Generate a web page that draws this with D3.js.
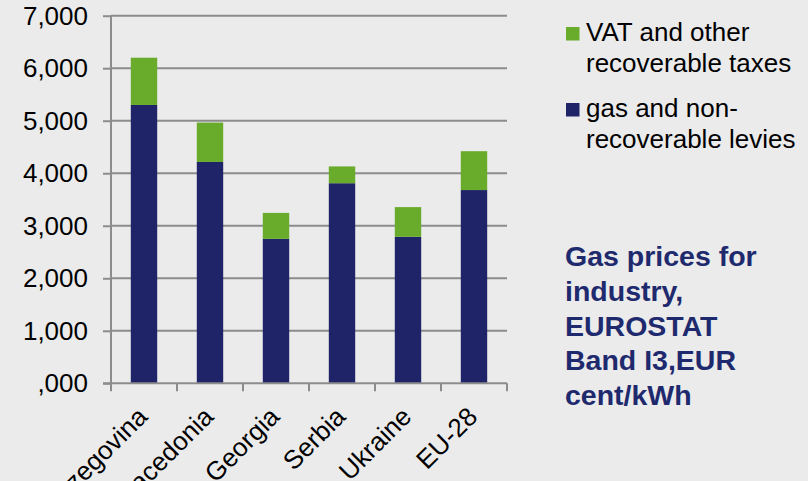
<!DOCTYPE html>
<html>
<head>
<meta charset="utf-8">
<script src="https://cdnjs.cloudflare.com/ajax/libs/d3/7.8.5/d3.min.js"></script>
<style>
  body { margin: 0; background: #ebebeb; }
  svg { display: block; font-family: "Liberation Sans", Arial, sans-serif; }
</style>
</head>
<body>
<div class="chart"></div>
<script>
// Chart data
var countries = ["Bosnia and Herzegovina", "FYR Macedonia", "Georgia", "Serbia", "Ukraine", "EU-28"];
var gasLevies = [5300, 4215, 2750, 3810, 2790, 3680];
var vatTaxes = [900, 750, 495, 320, 565, 740];
var yTicks = [0, 1000, 2000, 3000, 4000, 5000, 6000, 7000];
var yTickLabels = [",000", "1,000", "2,000", "3,000", "4,000", "5,000", "6,000", "7,000"];
var legendLabels = [["VAT and other", "recoverable taxes"], ["gas and non-", "recoverable levies"]];
var titleLines = ["Gas prices for", "industry,", "EUROSTAT", "Band I3,EUR", "cent/kWh"];

var svgWidth = 808;
var svgHeight = 481;

var margin = { top: 15.7, left: 111 };
var width = 396;
var height = 367.6;

var green = "#69ab2a";
var navy = "#1f2469";
var gridColor = "#8c8c8c";

var svg = d3.select(".chart")
  .append("svg")
  .attr("width", svgWidth)
  .attr("height", svgHeight);

svg.append("rect")
  .attr("width", svgWidth)
  .attr("height", svgHeight)
  .attr("fill", "#ebebeb");

var chartGroup = svg.append("g")
  .attr("transform", `translate(${margin.left}, ${margin.top})`);

// Scales
var xScale = d3.scaleBand()
  .domain(countries)
  .range([0, width])
  .paddingInner(0.6)
  .paddingOuter(0.3);

var yScale = d3.scaleLinear()
  .domain([0, 7000])
  .range([height, 0]);

// Gridlines
chartGroup.selectAll(".grid")
  .data(yTicks.slice(1))
  .enter()
  .append("line")
  .attr("x1", 0)
  .attr("x2", width)
  .attr("y1", d => yScale(d))
  .attr("y2", d => yScale(d))
  .attr("stroke", gridColor)
  .attr("stroke-width", 2);

// Stacked bars
var stackData = countries.map((c, i) => ({ country: c, gas: gasLevies[i], vat: vatTaxes[i] }));
var series = d3.stack().keys(["gas", "vat"])(stackData);
var colors = { gas: navy, vat: green };

chartGroup.selectAll(".series")
  .data(series)
  .enter()
  .append("g")
  .attr("fill", d => colors[d.key])
  .selectAll("rect")
  .data(d => d)
  .enter()
  .append("rect")
  .attr("x", d => xScale(d.data.country))
  .attr("width", xScale.bandwidth())
  .attr("y", d => yScale(d[1]))
  .attr("height", d => yScale(d[0]) - yScale(d[1]));

// Y axis
var leftAxis = d3.axisLeft(yScale)
  .tickValues(yTicks)
  .tickSize(8)
  .tickPadding(15)
  .tickFormat((d, i) => yTickLabels[i]);

var yAxisG = chartGroup.append("g").call(leftAxis);
yAxisG.select(".domain").attr("stroke", gridColor).attr("stroke-width", 2).attr("d", `M0,${height}V0`);
yAxisG.selectAll(".tick line").attr("stroke", gridColor).attr("stroke-width", 2);
yAxisG.selectAll(".tick text")
  .attr("fill", "#000")
  .style("font-size", "26px")
  .style("font-family", "Liberation Sans, Arial, sans-serif");

// X axis: tick marks at band edges
var xAxisG = chartGroup.append("g").attr("transform", `translate(0, ${height})`);
xAxisG.append("line")
  .attr("x1", -8).attr("x2", width)
  .attr("stroke", gridColor).attr("stroke-width", 2);

var edges = countries.map(c => xScale(c) - xScale.step() * xScale.paddingInner() / 2);
edges.push(width);
xAxisG.selectAll(".xtick")
  .data(edges)
  .enter()
  .append("line")
  .attr("x1", d => d).attr("x2", d => d)
  .attr("y1", 0).attr("y2", 8)
  .attr("stroke", gridColor).attr("stroke-width", 2);

xAxisG.selectAll(".xlabel")
  .data(countries)
  .enter()
  .append("text")
  .attr("transform", d => `translate(${xScale(d) + xScale.bandwidth() / 2 + 5}, 35) rotate(-45)`)
  .attr("text-anchor", "end")
  .style("font-size", "26px")
  .attr("fill", "#000")
  .text(d => d);

// Legend
var legend = svg.append("g").attr("transform", "translate(566, 0)");
var legendColors = [green, navy];
var legendY = [27, 103];
legendLabels.forEach(function (lines, i) {
  legend.append("rect")
    .attr("x", 0).attr("y", legendY[i])
    .attr("width", 13.5).attr("height", 13.5)
    .attr("fill", legendColors[i]);
  legend.selectAll(null)
    .data(lines)
    .enter()
    .append("text")
    .attr("x", 20)
    .attr("y", (d, j) => legendY[i] + 14 + j * 31)
    .style("font-size", "26px")
    .attr("fill", "#000")
    .text(d => d);
});

// Title text
svg.append("g")
  .selectAll("text")
  .data(titleLines)
  .enter()
  .append("text")
  .attr("x", 565)
  .attr("y", (d, i) => 266 + i * 34.75)
  .style("font-size", "28.5px")
  .style("font-weight", "bold")
  .attr("fill", "#1f2a6e")
  .text(d => d);
</script>
</body>
</html>
